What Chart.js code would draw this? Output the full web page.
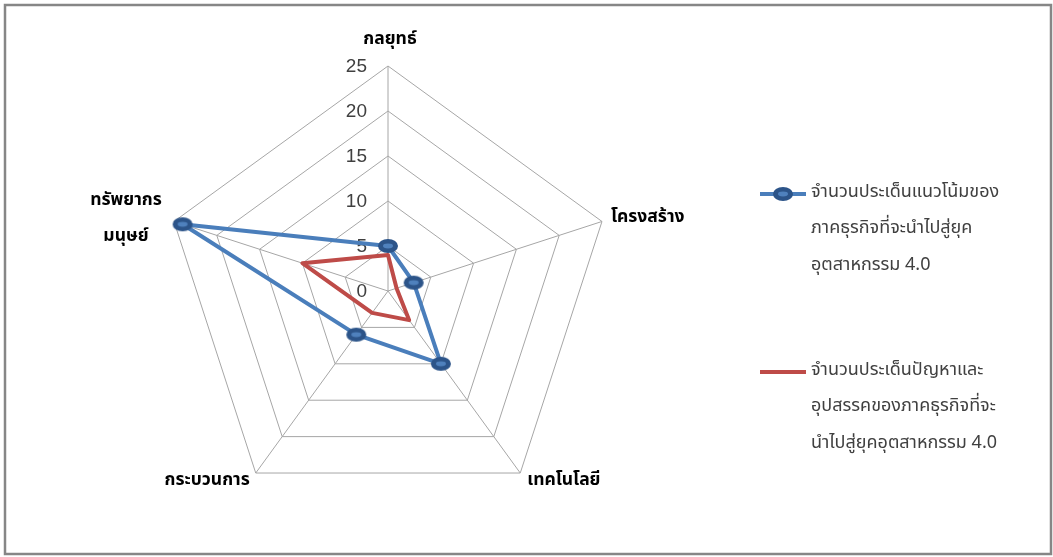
<!DOCTYPE html>
<html>
<head>
<meta charset="utf-8">
<script src="https://cdn.jsdelivr.net/npm/chart.js@4.4.0/dist/chart.umd.min.js"></script>
<style>
  html, body { margin: 0; padding: 0; background: #ffffff; }
  #wrap { position: relative; width: 1053px; height: 557px; }
</style>
</head>
<body>
<div id="wrap"><canvas id="c" width="1053" height="557"></canvas></div>
<script>
// Radar axes (clockwise from the top)
const categories = [['กลยุทธ์'], ['โครงสร้าง'], ['เทคโนโลยี'], ['กระบวนการ'], ['ทรัพยากร', 'มนุษย์']];

// Number of issues per axis
const trendValues = [5, 3, 10, 6, 24];
const problemValues = [4, 1, 4, 3, 10];

// Radial scale tick labels
const tickValues = [0, 5, 10, 15, 20, 25];

// Series names (wrapped as in the legend)
const trendLabel = ['จำนวนประเด็นแนวโน้มของ', 'ภาคธุรกิจที่จะนำไปสู่ยุค', 'อุตสาหกรรม 4.0'];
const problemLabel = ['จำนวนประเด็นปัญหาและ', 'อุปสรรคของภาคธุรกิจที่จะ', 'นำไปสู่ยุคอุตสาหกรรม 4.0'];

const THAI_FONT = "Tahoma, 'Noto Sans Thai', 'Leelawadee UI', 'Noto Sans', sans-serif";
const BLUE = '#4A7EBB';
const RED = '#BE4B48';
const TEXT = '#404040';

// Elliptical marker used for the first series
function makeMarker() {
  const c = document.createElement('canvas');
  c.width = 22; c.height = 16;
  const g = c.getContext('2d');
  g.fillStyle = '#2C5489';
  g.beginPath(); g.ellipse(11, 8, 10, 7, 0, 0, Math.PI * 2); g.fill();
  g.fillStyle = '#4F81BD';
  g.beginPath(); g.ellipse(11, 8, 5, 2.4, 0, 0, Math.PI * 2); g.fill();
  return c;
}
const marker = makeMarker();

// Per-axis label placement relative to the outer vertex
const labelPlacement = [
  { align: 'center', dx: 2, dy: -26 },
  { align: 'left', dx: 9, dy: -3 },
  { align: 'left', dx: 7, dy: 8 },
  { align: 'right', dx: -6, dy: 8 },
  { align: 'center', dx: -48, dy: -2 }
];

const framePlugin = {
  id: 'frame',
  afterDraw(chart) {
    const ctx = chart.ctx;
    ctx.save();
    ctx.strokeStyle = '#868686';
    ctx.lineWidth = 2.5;
    ctx.strokeRect(5, 5, 1046, 549);
    ctx.restore();
  }
};

const scaleTextPlugin = {
  id: 'scaleText',
  beforeDatasetsDraw(chart) {
    const s = chart.scales.r;
    const ctx = chart.ctx;
    ctx.save();
    // value ticks, left of the vertical spoke
    ctx.font = "19px 'Liberation Sans', Arial, sans-serif";
    ctx.fillStyle = TEXT;
    ctx.textAlign = 'right';
    ctx.textBaseline = 'middle';
    tickValues.forEach(v => {
      const d = s.getDistanceFromCenterForValue(v);
      ctx.fillText(String(v), s.xCenter - 21, s.yCenter - d + 1);
    });
    // axis names
    ctx.font = "bold 17.5px " + THAI_FONT;
    ctx.fillStyle = '#000000';
    categories.forEach((lines, i) => {
      const p = s.getPointPosition(i, s.drawingArea);
      const pl = labelPlacement[i];
      ctx.textAlign = pl.align;
      const lh = 36;
      const y0 = p.y + pl.dy - (lines.length - 1) * lh / 2;
      lines.forEach((t, k) => ctx.fillText(t, p.x + pl.dx, y0 + k * lh));
    });
    ctx.restore();
  }
};

const legendPlugin = {
  id: 'sideLegend',
  afterDraw(chart) {
    const ctx = chart.ctx;
    const items = [
      { y: 194, lines: trendLabel, color: BLUE, marker: true },
      { y: 372, lines: problemLabel, color: RED, marker: false }
    ];
    ctx.save();
    ctx.font = "18px " + THAI_FONT;
    ctx.textAlign = 'left';
    ctx.textBaseline = 'middle';
    items.forEach(it => {
      ctx.strokeStyle = it.color;
      ctx.lineWidth = 4;
      ctx.lineCap = 'butt';
      ctx.beginPath();
      ctx.moveTo(760, it.y); ctx.lineTo(806, it.y);
      ctx.stroke();
      if (it.marker) ctx.drawImage(marker, 783 - 11, it.y - 8);
      ctx.fillStyle = TEXT;
      it.lines.forEach((t, k) => ctx.fillText(t, 811, it.y - 1 + k * 36.5));
    });
    ctx.restore();
  }
};

new Chart(document.getElementById('c'), {
  type: 'radar',
  data: {
    labels: categories,
    datasets: [
      {
        label: trendLabel.join(' '),
        data: trendValues,
        borderColor: BLUE,
        backgroundColor: 'rgba(0,0,0,0)',
        borderWidth: 4,
        borderJoinStyle: 'round',
        fill: false,
        pointStyle: marker,
        pointRadius: 8,
        pointHoverRadius: 8
      },
      {
        label: problemLabel.join(' '),
        data: problemValues,
        borderColor: RED,
        backgroundColor: 'rgba(0,0,0,0)',
        borderWidth: 4,
        borderJoinStyle: 'round',
        fill: false,
        pointRadius: 0,
        pointHoverRadius: 0
      }
    ]
  },
  options: {
    responsive: false,
    devicePixelRatio: 1,
    animation: false,
    layout: { padding: { left: 163, top: 66, right: 440, bottom: 41 } },
    plugins: {
      legend: { display: false },
      tooltip: { enabled: false }
    },
    scales: {
      r: {
        min: tickValues[0],
        max: tickValues[tickValues.length - 1],
        ticks: { stepSize: 5, display: false },
        pointLabels: { display: false },
        grid: { color: '#A6A6A6', lineWidth: 1 },
        angleLines: { color: '#A6A6A6', lineWidth: 1 }
      }
    }
  },
  plugins: [framePlugin, scaleTextPlugin, legendPlugin]
});
</script>
</body>
</html>
